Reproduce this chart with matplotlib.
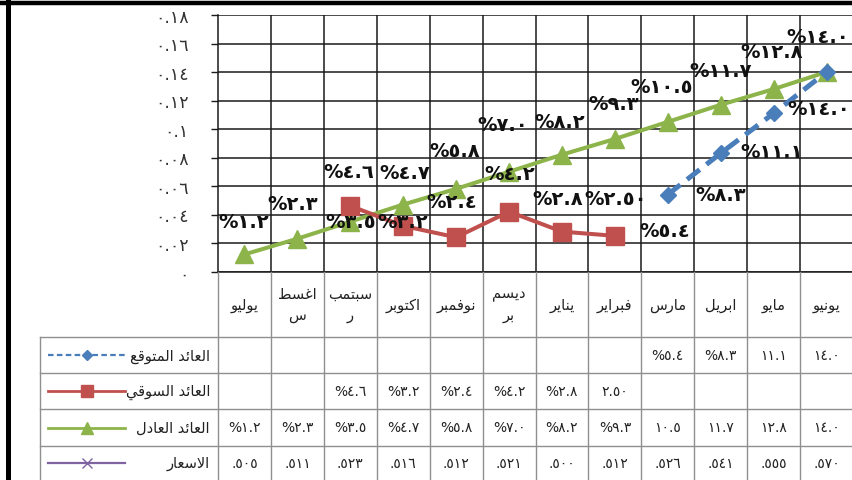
import numpy as np
import matplotlib
matplotlib.use("Agg")
import matplotlib.pyplot as plt
from matplotlib.lines import Line2D

plt.rcParams['font.family'] = ['DejaVu Sans']

# ---------------------------------------------------------------- data
months = ["يوليو", "اغسطس", "سبتمبر", "اكتوبر", "نوفمبر", "ديسمبر",
          "يناير", "فبراير", "مارس", "ابريل", "مايو", "يونيو"]
# where the long month names wrap onto a second line in the header cells
month_breaks = {1: 4, 2: 5, 5: 4}

nan = np.nan
expected = [nan, nan, nan, nan, nan, nan, nan, nan, 0.054, 0.083, 0.111, 0.140]
market = [nan, nan, 0.046, 0.032, 0.024, 0.042, 0.028, 0.025, nan, nan, nan, nan]
fair = [0.012, 0.023, 0.035, 0.047, 0.058, 0.070, 0.082, 0.093, 0.105, 0.117, 0.128, 0.140]
prices = [0.505, 0.511, 0.523, 0.516, 0.512, 0.521, 0.500, 0.512, 0.526, 0.541, 0.555, 0.570]

market_decimals = [1, 1, 1, 1, 1, 1, 1, 2, 1, 1, 1, 1]
# cells of the data table that carry a percent sign
expected_pct = [True] * 10 + [False, False]
market_pct = [True] * 7 + [False] * 5
fair_pct = [True] * 8 + [False] * 4

series_names = ["العائد المتوقع", "العائد السوقي", "العائد العادل", "الاسعار"]
y_ticks = [0.00, 0.02, 0.04, 0.06, 0.08, 0.10, 0.12, 0.14, 0.16, 0.18]

# ---------------------------------------------------------------- text helpers
_FORMS = {  # isolated, final, initial, medial
    'ا': ('\uFE8D', '\uFE8E', None, None),
    'ب': ('\uFE8F', '\uFE90', '\uFE91', '\uFE92'),
    'ت': ('\uFE95', '\uFE96', '\uFE97', '\uFE98'),
    'ئ': ('\uFE89', '\uFE8A', '\uFE8B', '\uFE8C'),
    'د': ('\uFEA9', '\uFEAA', None, None),
    'ر': ('\uFEAD', '\uFEAE', None, None),
    'س': ('\uFEB1', '\uFEB2', '\uFEB3', '\uFEB4'),
    'ط': ('\uFEC1', '\uFEC2', '\uFEC3', '\uFEC4'),
    'ع': ('\uFEC9', '\uFECA', '\uFECB', '\uFECC'),
    'غ': ('\uFECD', '\uFECE', '\uFECF', '\uFED0'),
    'ف': ('\uFED1', '\uFED2', '\uFED3', '\uFED4'),
    'ق': ('\uFED5', '\uFED6', '\uFED7', '\uFED8'),
    'ك': ('\uFED9', '\uFEDA', '\uFEDB', '\uFEDC'),
    'ل': ('\uFEDD', '\uFEDE', '\uFEDF', '\uFEE0'),
    'م': ('\uFEE1', '\uFEE2', '\uFEE3', '\uFEE4'),
    'ن': ('\uFEE5', '\uFEE6', '\uFEE7', '\uFEE8'),
    'و': ('\uFEED', '\uFEEE', None, None),
    'ي': ('\uFEF1', '\uFEF2', '\uFEF3', '\uFEF4'),
}


def _joins_left(c):
    return c in _FORMS and _FORMS[c][2] is not None


def shape(text):
    """Contextual Arabic forms in visual (left-to-right) order."""
    out = []
    i, n = 0, len(text)
    while i < n:
        c = text[i]
        if c not in _FORMS:
            out.append(c)
            i += 1
            continue
        conn_prev = i > 0 and _joins_left(text[i - 1])
        if c == 'ل' and i + 1 < n and text[i + 1] == 'ا':
            out.append('\uFEFC' if conn_prev else '\uFEFB')
            i += 2
            continue
        conn_next = _joins_left(c) and i + 1 < n and text[i + 1] in _FORMS
        iso, fin, ini, med = _FORMS[c]
        if conn_prev and conn_next:
            out.append(med)
        elif conn_prev:
            out.append(fin)
        elif conn_next:
            out.append(ini)
        else:
            out.append(iso)
        i += 1
    return ''.join(reversed(out))


_DIGITS = str.maketrans('0123456789', '٠١٢٣٤٥٦٧٨٩')


def ar(s):
    return s.translate(_DIGITS)


def pct_label(v, dec=1, pct=True):
    s = ar(f"{v * 100:.{dec}f}")
    return "%" + s if pct else s


def tick_label(v):
    s = f"{v:.2f}".rstrip('0').rstrip('.')
    return ar(s)


def price_label(v):
    return ar(f"{v:.3f}")[1:]


# ---------------------------------------------------------------- layout (pixels)
W, H = 853, 481
PLOT_L, PLOT_R, PLOT_T, PLOT_B = 218, 853, 16, 272.5
LEG_L = 40
ROWS = [272.5, 338, 374, 410, 447, 483]
COLW = (PLOT_R - PLOT_L) / 12.0


def px2x(px):
    return -0.5 + (px - PLOT_L) / COLW


fig = plt.figure(figsize=(W / 100, H / 100), dpi=100)
fig.patch.set_facecolor('white')

ax = fig.add_axes([PLOT_L / W, 1 - PLOT_B / H,
                   (PLOT_R - PLOT_L) / W, (PLOT_B - PLOT_T) / H])
ax.set_xlim(-0.5, 11.5)
ax.set_ylim(0, 0.18)
ax.set_facecolor('none')

grid_c = '#1a1a1a'
for k in range(1, 12):
    ax.axvline(k - 0.5, color=grid_c, lw=1.1, zorder=1)
for yv in y_ticks:
    ax.axhline(yv, color=grid_c, lw=1.1, zorder=1)
for side in ('top', 'right'):
    ax.spines[side].set_visible(False)
ax.spines['left'].set_color(grid_c)
ax.spines['bottom'].set_color(grid_c)
ax.spines['left'].set_linewidth(1.1)
ax.spines['bottom'].set_linewidth(1.1)

ax.set_xticks([])
ax.set_yticks(y_ticks)
ax.set_yticklabels([tick_label(v) for v in y_ticks])
ax.tick_params(axis='y', length=5, width=1, color=grid_c, pad=16,
               labelsize=12.5, labelcolor='#333333')

x = np.arange(12)
c_blue, c_red, c_green, c_purple = '#4A7EBB', '#C0504D', '#8DB44A', '#8064A2'

ax.plot(x, prices, color=c_purple, lw=2.5, marker='x', ms=8, zorder=3)
ax.plot(x, fair, color=c_green, lw=2.9, marker='^', ms=12.5, zorder=4)
ax.plot(x, market, color=c_red, lw=2.9, marker='s', ms=12.5, zorder=4)
ax.plot(x, expected, color=c_blue, lw=3.6, ls=(0, (3.2, 1.7)),
        marker='D', ms=8.5, zorder=4)

# data labels (offsets in pixels from the point)
fair_off = [(-1, 33), (-5, 35), (0, 0), (2, 32), (-1, 38), (-6, 47),
            (-2, 33), (-1, 35), (-6, 35), (0, 34), (-2, 38), (-9, 35)]
market_off = {2: (-2, 34), 3: (-1, 4), 4: (-4, 36), 5: (1, 38), 6: (-4, 33), 7: (1, 37)}
expected_off = {8: (-3, -36), 9: (0, -41), 10: (-2, -38), 11: (-8, -37)}

lab_kw = dict(textcoords='offset pixels', ha='center', va='center',
              fontsize=14, fontweight='bold', color='#111111', zorder=10,
              annotation_clip=False)
for i, v in enumerate(fair):
    ax.annotate(pct_label(v), (i, v), xytext=fair_off[i], **lab_kw)
for i, off in market_off.items():
    ax.annotate(pct_label(market[i], market_decimals[i]), (i, market[i]),
                xytext=off, **lab_kw)
for i, off in expected_off.items():
    ax.annotate(pct_label(expected[i]), (i, expected[i]), xytext=off, **lab_kw)

# ---------------------------------------------------------------- data table
tab = fig.add_axes([PLOT_L / W, 0, (PLOT_R - PLOT_L) / W, 1 - PLOT_B / H])
tab.set_xlim(-0.5, 11.5)
tab.set_ylim(H, PLOT_B)
tab.axis('off')

tc = '#8f8f8f'
xl = px2x(LEG_L)
for k in range(13):
    tab.plot([k - 0.5] * 2, [ROWS[0], ROWS[-1]], color=tc, lw=1, clip_on=False)
tab.plot([xl, xl], [ROWS[1], ROWS[-1]], color=tc, lw=1, clip_on=False)
for yr in ROWS[1:-1]:
    tab.plot([xl, 11.5], [yr, yr], color=tc, lw=1, clip_on=False)

txt_c = '#222222'
hdr_mid = (ROWS[0] + ROWS[1]) / 2
for i, m in enumerate(months):
    if i in month_breaks:
        b = month_breaks[i]
        label = shape(m[:b]) + "\n" + shape(m[b:])
    else:
        label = shape(m)
    tab.text(i, hdr_mid, label, ha='center', va='center', fontsize=10.5,
             color=txt_c, linespacing=1.5)

rows_vals = [
    [pct_label(v, 1, p) if not np.isnan(v) else "" for v, p in zip(expected, expected_pct)],
    [pct_label(v, d, p) if not np.isnan(v) else ""
     for v, d, p in zip(market, market_decimals, market_pct)],
    [pct_label(v, 1, p) for v, p in zip(fair, fair_pct)],
    [price_label(v) for v in prices],
]
for r, vals in enumerate(rows_vals):
    ym = (ROWS[r + 1] + ROWS[r + 2]) / 2
    if r == 3:
        ym = (ROWS[4] + 481) / 2
    for i, s in enumerate(vals):
        if s:
            tab.text(i, ym, s, ha='center', va='center', fontsize=10,
                     color=txt_c)

# legend keys inside the table
keys = [
    dict(color=c_blue, lw=1.6, ls=(0, (2.5, 1.5)), marker='D', ms=5),
    dict(color=c_red, lw=2, ls='-', marker='s', ms=8),
    dict(color=c_green, lw=2, ls='-', marker='^', ms=8),
    dict(color=c_purple, lw=1.6, ls='-', marker='x', ms=7, mew=1),
]
for r, (name, kw) in enumerate(zip(series_names, keys)):
    ym = (ROWS[r + 1] + ROWS[r + 2]) / 2
    if r == 3:
        ym = (ROWS[4] + 481) / 2
    tab.plot([px2x(48), px2x(125)], [ym, ym], clip_on=False,
             **{k: v for k, v in kw.items() if k not in ('marker', 'ms', 'mew')})
    tab.plot([px2x(86.5)], [ym], clip_on=False, color=kw['color'], ls='none',
             marker=kw['marker'], ms=kw['ms'], mew=kw.get('mew', 1))
    tab.text(px2x(210), ym, shape(name), ha='right', va='center',
             fontsize=10.5, color=txt_c, clip_on=False)

# chart frame
fig.add_artist(Line2D([0, 1], [1 - 4 / H] * 2, transform=fig.transFigure,
                      color='black', lw=3.2))
fig.add_artist(Line2D([8 / W] * 2, [0, 1], transform=fig.transFigure,
                      color='black', lw=3.6))

fig.savefig('out.png', dpi=100)
